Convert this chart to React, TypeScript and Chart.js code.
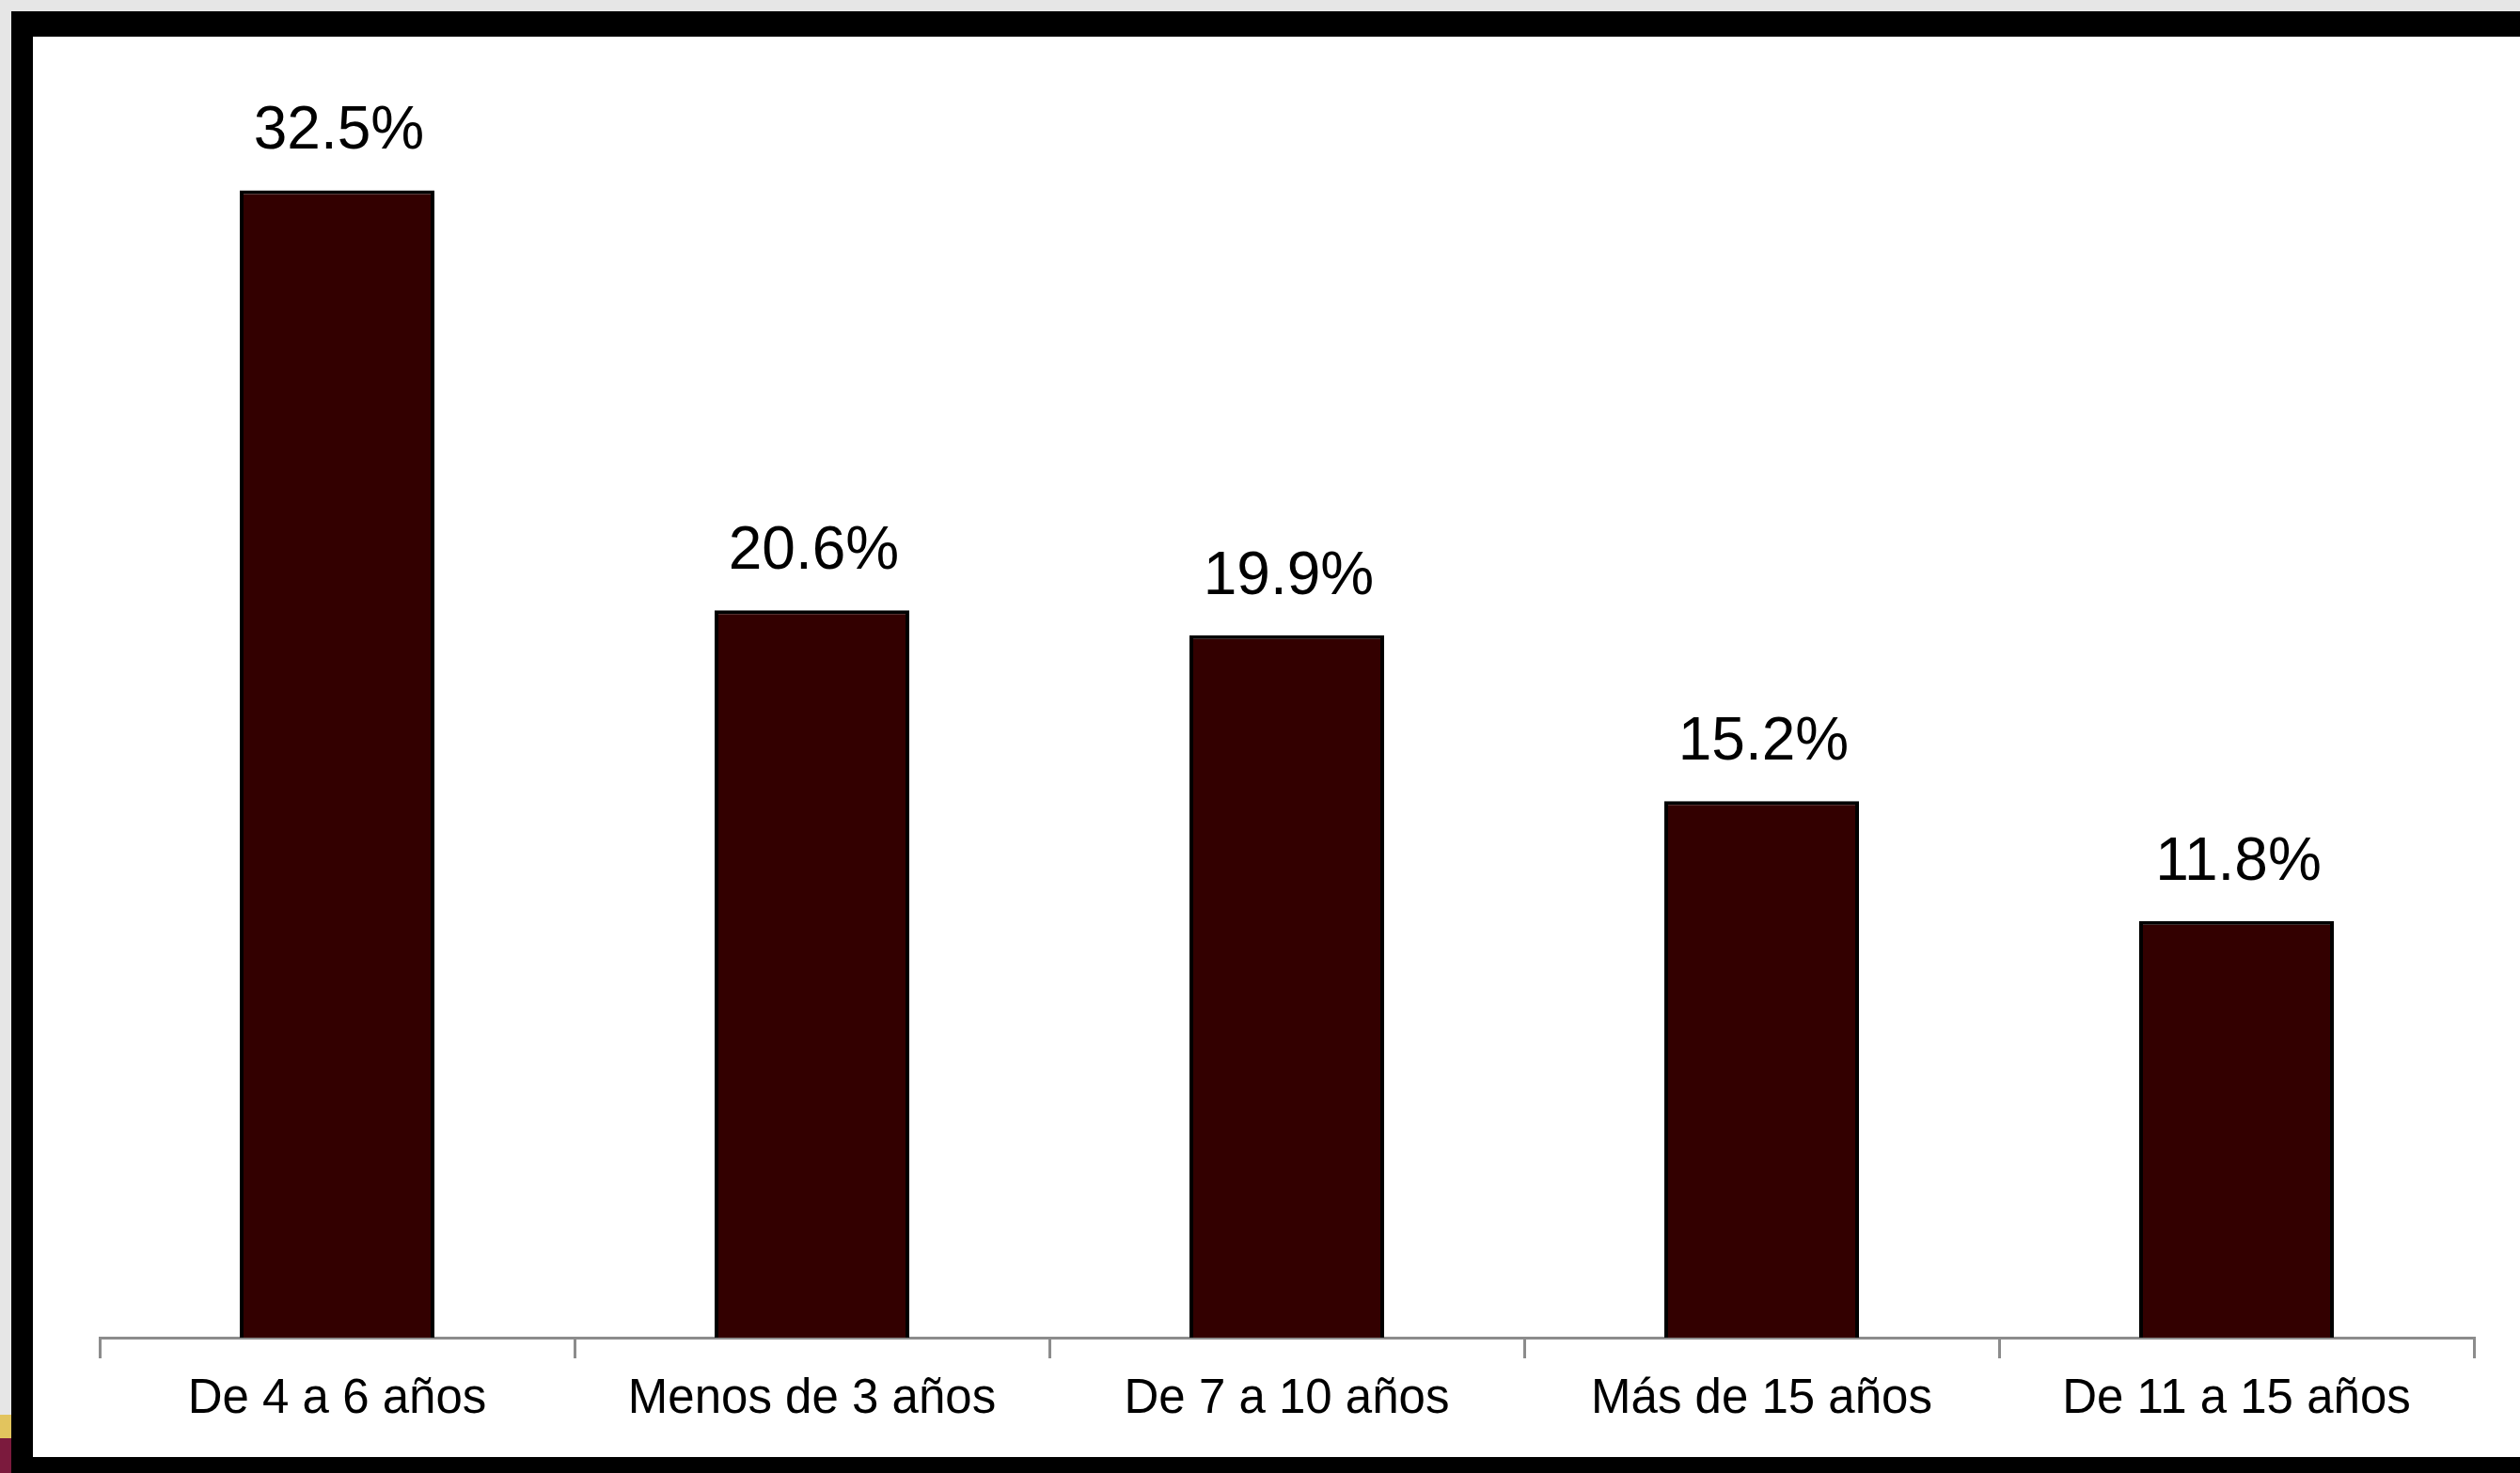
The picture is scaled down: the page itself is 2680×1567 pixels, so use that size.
import React, { useEffect, useRef } from "react";
import { Chart, registerables } from "chart.js";

Chart.register(...registerables);

const categories = [
  "De 4 a 6 años",
  "Menos de 3 años",
  "De 7 a 10 años",
  "Más de 15 años",
  "De 11 a 15 años",
];
const values = [32.5, 20.6, 19.9, 15.2, 11.8];

const W = 2680;
const H = 1567;
const FONT = '"Liberation Sans", Arial, sans-serif';

const valueLabels = {
  id: "valueLabels",
  afterDatasetsDraw(chart: any) {
    const ctx = chart.ctx;
    const meta = chart.getDatasetMeta(0);
    ctx.save();
    ctx.font = `64px ${FONT}`;
    ctx.fillStyle = "#000000";
    ctx.textAlign = "center";
    ctx.textBaseline = "alphabetic";
    meta.data.forEach((el: any, i: number) => {
      ctx.fillText(values[i].toFixed(1) + "%", el.x + 2, el.y - 44);
    });
    ctx.restore();
  },
};

export default function App() {
  const ref = useRef<HTMLCanvasElement | null>(null);

  useEffect(() => {
    document.body.style.overflow = "hidden";
    const canvas = ref.current;
    if (!canvas) return;
    const chart = new Chart(canvas, {
      type: "bar",
      data: {
        labels: categories,
        datasets: [
          {
            data: values,
            backgroundColor: "#330000",
            borderColor: "#000000",
            borderWidth: 4,
            borderSkipped: "start",
            categoryPercentage: 1,
            barPercentage: 0.41,
          },
        ],
      },
      options: {
        responsive: false,
        animation: false,
        devicePixelRatio: 1,
        layout: {
          padding: { left: 106, right: 49, top: 71, bottom: 0 },
        },
        plugins: {
          legend: { display: false },
          tooltip: { enabled: false },
          title: { display: false },
        },
        scales: {
          x: {
            type: "category",
            offset: true,
            grid: {
              display: true,
              offset: true,
              drawOnChartArea: false,
              drawTicks: true,
              tickLength: 22,
              color: "#8c8c8c",
              lineWidth: 3,
            },
            border: { display: true, color: "#8c8c8c", width: 3 },
            ticks: {
              color: "#000000",
              font: { family: FONT, size: 51 },
              padding: 13,
              maxRotation: 0,
              autoSkip: false,
            },
            afterFit(scale: any) {
              scale.height = H - 1423;
            },
          },
          y: {
            display: false,
            min: 0,
            max: 36,
          },
        },
      },
      plugins: [valueLabels],
    } as any);
    return () => chart.destroy();
  }, []);

  return (
    <div
      style={{
        position: "absolute",
        left: 0,
        top: 0,
        width: W,
        height: H,
        overflow: "hidden",
        background: "#e6e6e6",
      }}
    >
      <div style={{ position: "absolute", left: 0, top: 1505, width: 12, height: 25, background: "#e2c45e" }} />
      <div style={{ position: "absolute", left: 0, top: 1530, width: 12, height: 37, background: "#7b1a3d" }} />
      <div
        style={{
          position: "absolute",
          left: 12,
          top: 12,
          width: W - 12,
          height: H - 12,
          background: "#000000",
        }}
      />
      <div
        style={{
          position: "absolute",
          left: 35,
          top: 39,
          width: W - 35,
          height: 1550 - 39,
          background: "#ffffff",
        }}
      />
      <canvas
        ref={ref}
        width={W}
        height={H}
        style={{ position: "absolute", left: 0, top: 0, width: W, height: H }}
      />
    </div>
  );
}
